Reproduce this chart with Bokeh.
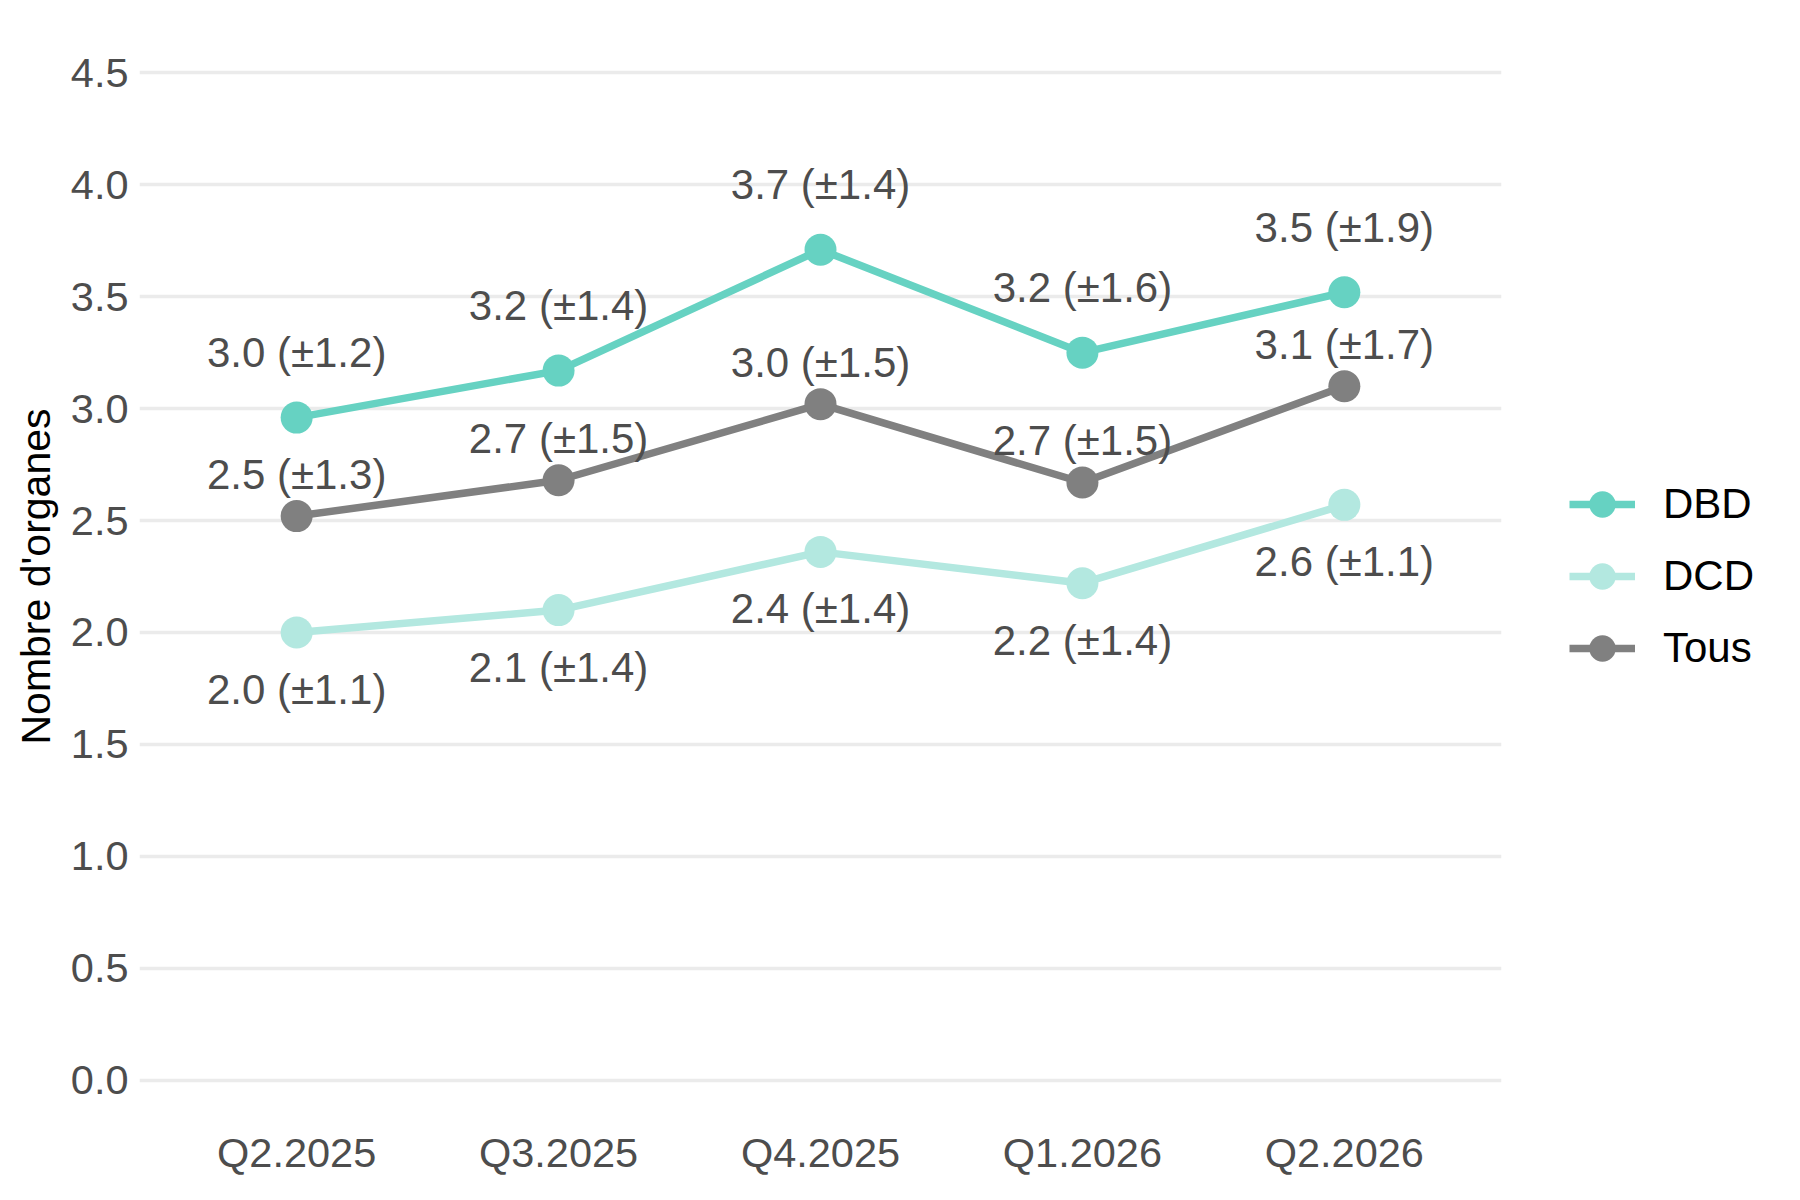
from bokeh.plotting import figure
from bokeh.models import Range1d, FixedTicker, Legend, LegendItem, PrintfTickFormatter
from bokeh.embed import file_html
from bokeh.resources import INLINE
from bokeh.core.properties import value

# ---- data -------------------------------------------------------------
quarters = ["Q2.2025", "Q3.2025", "Q4.2025", "Q1.2026", "Q2.2026"]
dbd_mean = [2.96, 3.17, 3.71, 3.25, 3.52]
dbd_sd = [1.2, 1.4, 1.4, 1.6, 1.9]
dcd_mean = [2.00, 2.10, 2.36, 2.22, 2.57]
dcd_sd = [1.1, 1.4, 1.4, 1.4, 1.1]
tous_mean = [2.52, 2.68, 3.02, 2.67, 3.10]
tous_sd = [1.3, 1.5, 1.5, 1.5, 1.7]
series_names = ["DBD", "DCD", "Tous"]
y_ticks = [0.0, 0.5, 1.0, 1.5, 2.0, 2.5, 3.0, 3.5, 4.0, 4.5]
y_title = "Nombre d'organes"

# ---- style ------------------------------------------------------------
FONT_NAME = "Liberation Sans"
FONT = value(FONT_NAME)
colors = {"DBD": "#66D2C2", "DCD": "#B3E8E0", "Tous": "#808080"}
label_offsets = {"DBD": -65, "DCD": 57, "Tous": -42}

xpos = list(range(1, len(quarters) + 1))

p = figure(
    frame_width=1362, frame_height=1108,
    min_border_left=139, min_border_top=22, min_border_bottom=62, min_border_right=291,
    x_range=Range1d(0.4, len(quarters) + 0.6),
    y_range=Range1d(-0.225, 4.725),
    output_backend="svg", toolbar_location=None,
)
p.background_fill_color = "white"
p.border_fill_color = "white"
p.outline_line_color = None

p.xgrid.visible = False
p.ygrid.grid_line_color = "#EBEBEB"
p.ygrid.grid_line_width = 3.5

p.xaxis.ticker = FixedTicker(ticks=xpos)
p.xaxis.major_label_overrides = {i: q for i, q in zip(xpos, quarters)}
p.yaxis.ticker = FixedTicker(ticks=y_ticks)
p.yaxis.formatter = PrintfTickFormatter(format="%.1f")
p.yaxis.axis_label = y_title

for ax in (p.xaxis, p.yaxis):
    ax.axis_line_color = None
    ax.major_tick_line_color = None
    ax.minor_tick_line_color = None
    ax.major_tick_out = 0
    ax.major_tick_in = 0
    ax.major_label_text_font = FONT_NAME
    ax.major_label_text_font_size = "41.5px"
    ax.major_label_text_color = "#4D4D4D"
    ax.axis_label_text_font = FONT_NAME
    ax.axis_label_text_font_size = "41px"
    ax.axis_label_text_font_style = "normal"
    ax.axis_label_text_color = "black"
p.xaxis.major_label_standoff = -2
p.yaxis.major_label_standoff = 11
p.yaxis.axis_label_standoff = 9

data = {
    "DBD": (dbd_mean, dbd_sd),
    "DCD": (dcd_mean, dcd_sd),
    "Tous": (tous_mean, tous_sd),
}

line_r = {}
for name in series_names:
    mean, _ = data[name]
    line_r[name] = p.line(xpos, mean, line_color=colors[name], line_width=7.5)

pt_r = {}
for name in series_names:
    mean, _ = data[name]
    pt_r[name] = p.scatter(xpos, mean, size=32, fill_color=colors[name],
                           line_color=None, marker="circle")

for name in series_names:
    mean, sd = data[name]
    labels = [f"{m:.1f} (\u00b1{s:.1f})" for m, s in zip(mean, sd)]
    p.text(xpos, mean, text=labels, y_offset=label_offsets[name],
           text_align="center", text_baseline="middle",
           text_font=FONT, text_font_size="42px", text_color="#4D4D4D")

legend = Legend(
    items=[LegendItem(label=n, renderers=[line_r[n], pt_r[n]]) for n in series_names],
    location=(68, 446),
    orientation="vertical",
    glyph_width=66, glyph_height=72, label_height=72, spacing=0,
    label_standoff=28, padding=0, margin=0,
    label_text_font=FONT_NAME, label_text_font_size="42px", label_text_color="black",
    background_fill_alpha=0, border_line_color=None,
)
p.add_layout(legend, "right")

open("out.html", "w").write(file_html(p, INLINE))
